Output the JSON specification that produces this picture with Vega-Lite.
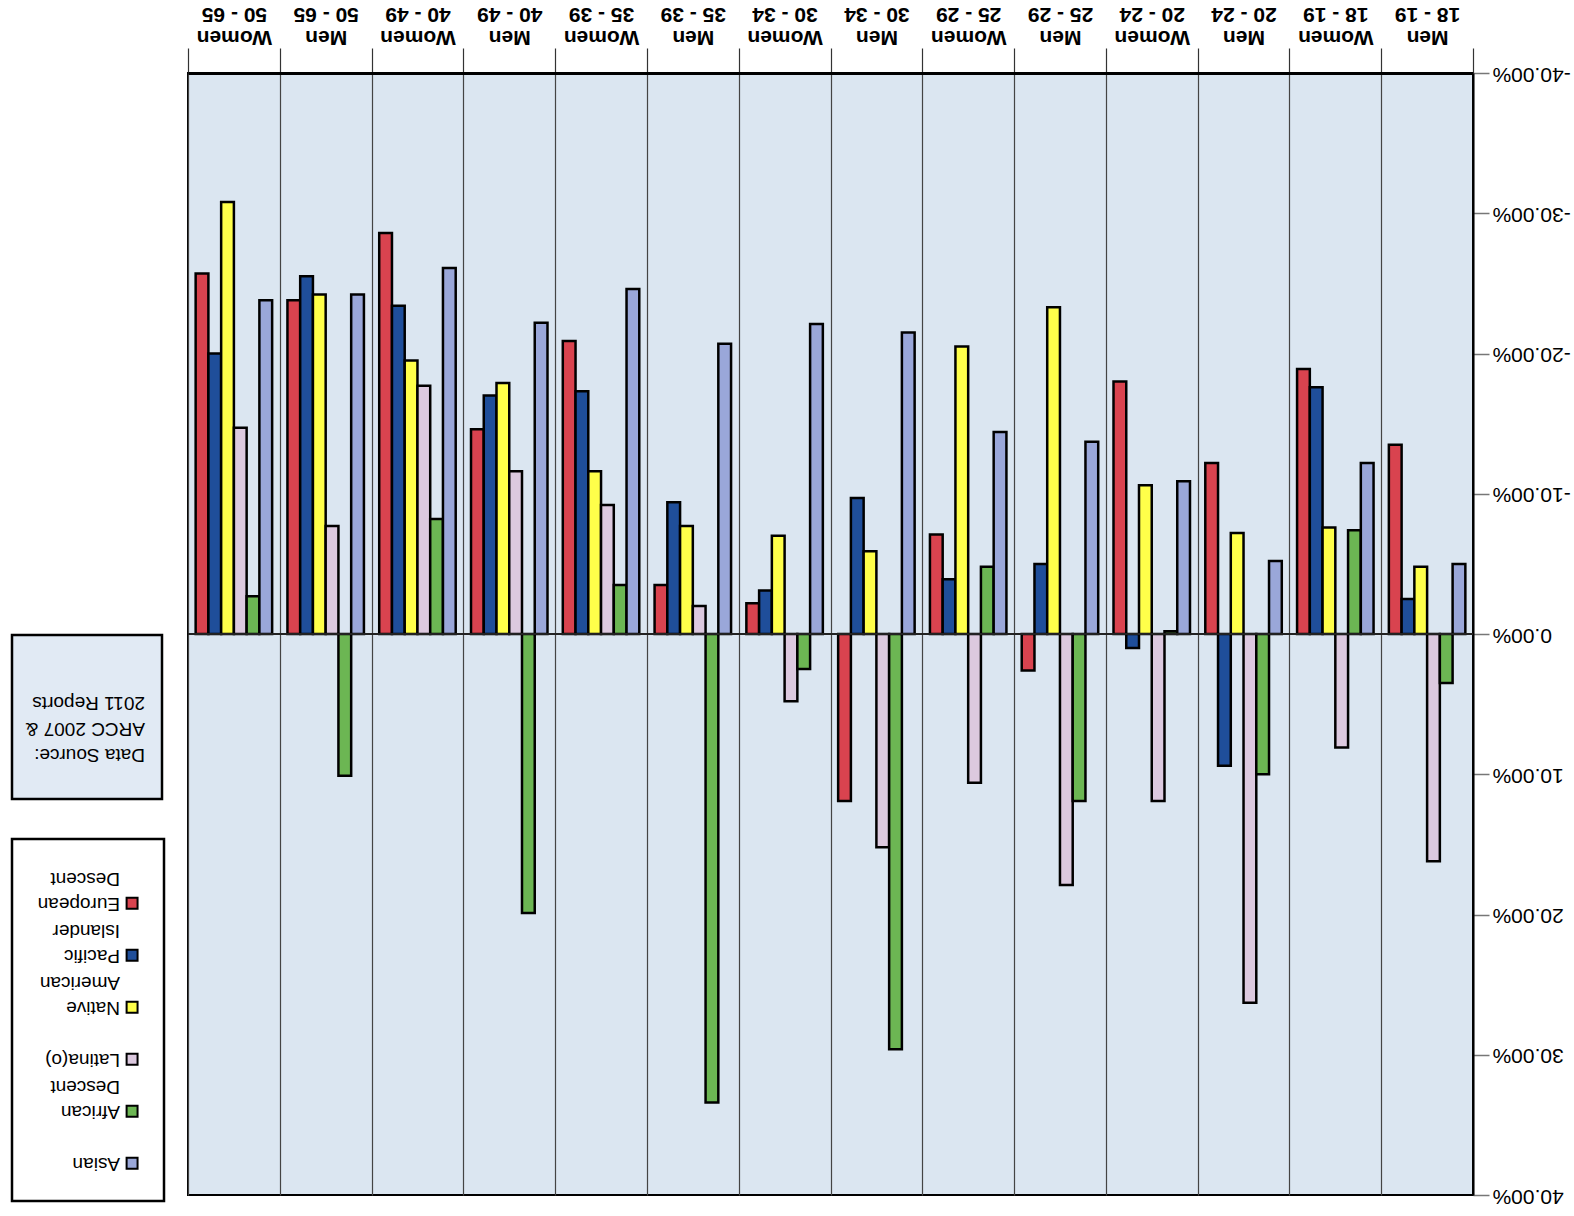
{
  "$schema": "https://vega.github.io/schema/vega-lite/v6.json",
  "background": "white",
  "padding": {"left": 10, "top": 2, "right": 2, "bottom": 5},
  "config": {"font": "Liberation Sans"},
  "hconcat": [
    {
      "spacing": 36,
      "vconcat": [
        {
          "width": 152, "height": 524,
          "view": {"stroke": null},
          "data": {"values": [{}]},
          "mark": {"type": "point", "opacity": 0},
          "encoding": {}
        },
        {
          "width": 150, "height": 164,
          "view": {"fill": "#e1eaf4", "stroke": "black", "strokeWidth": 2.5},
          "data": {"values": [{"t": "Data Source:\nARCC 2007 &\n2011 Reports"}]},
          "mark": {"type": "text", "angle": 180, "align": "left", "baseline": "middle", "lineBreak": "\n", "font": "Liberation Sans", "fontSize": 19, "lineHeight": 26, "dx": -58, "dy": -38, "color": "black"},
          "encoding": {"text": {"field": "t"}}
        },
        {
          "width": 152, "height": 362,
          "view": {"fill": "white", "stroke": "black", "strokeWidth": 2.5},
          "data": {"values": [
            {"race": "European Descent", "label": "European\nDescent"},
            {"race": "Pacific Islander", "label": "Pacific\nIslander"},
            {"race": "Native American", "label": "Native\nAmerican"},
            {"race": "Latina(o)", "label": "Latina(o)"},
            {"race": "African Descent", "label": "African\nDescent"},
            {"race": "Asian", "label": "Asian"}
          ]},
          "layer": [
            {
              "mark": {"type": "point", "shape": "square", "filled": true, "size": 120, "stroke": "black", "strokeWidth": 2, "opacity": 1},
              "encoding": {
                "x": {"datum": 0.79, "type": "quantitative", "scale": {"domain": [0, 1]}, "axis": null},
                "y": {"field": "race", "type": "nominal", "sort": ["European Descent", "Pacific Islander", "Native American", "Latina(o)", "African Descent", "Asian"], "scale": {"type": "point", "padding": 0.98, "align": 0.63}, "axis": null},
                "color": {"field": "race", "type": "nominal", "scale": {"domain": ["European Descent", "Pacific Islander", "Native American", "Latina(o)", "African Descent", "Asian"], "range": ["#d9434f", "#1f4e9a", "#ffff4a", "#dcc9df", "#6cb653", "#9aa7d9"]}, "legend": null}
              }
            },
            {
              "mark": {"type": "text", "angle": 180, "align": "left", "baseline": "top", "dy": -10, "dx": 12, "lineBreak": "\n", "font": "Liberation Sans", "fontSize": 19, "lineHeight": 25, "color": "black"},
              "encoding": {
                "x": {"datum": 0.79, "type": "quantitative", "scale": {"domain": [0, 1]}, "axis": null},
                "y": {"field": "race", "type": "nominal", "sort": ["European Descent", "Pacific Islander", "Native American", "Latina(o)", "African Descent", "Asian"], "scale": {"type": "point", "padding": 0.98, "align": 0.63}, "axis": null},
                "text": {"field": "label"}
              }
            }
          ]
        }
      ]
    },
    {
      "width": 1285, "height": 1122,
      "view": {"fill": "#dbe6f1", "stroke": "black", "strokeWidth": 2},
      "data": {"values": [
        {"group": "Women|50 - 65", "race": "European Descent", "value": -25.7},
        {"group": "Women|50 - 65", "race": "Pacific Islander", "value": -20.0},
        {"group": "Women|50 - 65", "race": "Native American", "value": -30.8},
        {"group": "Women|50 - 65", "race": "Latina(o)", "value": -14.7},
        {"group": "Women|50 - 65", "race": "African Descent", "value": -2.7},
        {"group": "Women|50 - 65", "race": "Asian", "value": -23.8},
        {"group": "Men|50 - 65", "race": "European Descent", "value": -23.8},
        {"group": "Men|50 - 65", "race": "Pacific Islander", "value": -25.5},
        {"group": "Men|50 - 65", "race": "Native American", "value": -24.2},
        {"group": "Men|50 - 65", "race": "Latina(o)", "value": -7.7},
        {"group": "Men|50 - 65", "race": "African Descent", "value": 10.1},
        {"group": "Men|50 - 65", "race": "Asian", "value": -24.2},
        {"group": "Women|40 - 49", "race": "European Descent", "value": -28.6},
        {"group": "Women|40 - 49", "race": "Pacific Islander", "value": -23.4},
        {"group": "Women|40 - 49", "race": "Native American", "value": -19.5},
        {"group": "Women|40 - 49", "race": "Latina(o)", "value": -17.7},
        {"group": "Women|40 - 49", "race": "African Descent", "value": -8.2},
        {"group": "Women|40 - 49", "race": "Asian", "value": -26.1},
        {"group": "Men|40 - 49", "race": "European Descent", "value": -14.6},
        {"group": "Men|40 - 49", "race": "Pacific Islander", "value": -17.0},
        {"group": "Men|40 - 49", "race": "Native American", "value": -17.9},
        {"group": "Men|40 - 49", "race": "Latina(o)", "value": -11.6},
        {"group": "Men|40 - 49", "race": "African Descent", "value": 19.9},
        {"group": "Men|40 - 49", "race": "Asian", "value": -22.2},
        {"group": "Women|35 - 39", "race": "European Descent", "value": -20.9},
        {"group": "Women|35 - 39", "race": "Pacific Islander", "value": -17.3},
        {"group": "Women|35 - 39", "race": "Native American", "value": -11.6},
        {"group": "Women|35 - 39", "race": "Latina(o)", "value": -9.2},
        {"group": "Women|35 - 39", "race": "African Descent", "value": -3.5},
        {"group": "Women|35 - 39", "race": "Asian", "value": -24.6},
        {"group": "Men|35 - 39", "race": "European Descent", "value": -3.5},
        {"group": "Men|35 - 39", "race": "Pacific Islander", "value": -9.4},
        {"group": "Men|35 - 39", "race": "Native American", "value": -7.7},
        {"group": "Men|35 - 39", "race": "Latina(o)", "value": -2.0},
        {"group": "Men|35 - 39", "race": "African Descent", "value": 33.4},
        {"group": "Men|35 - 39", "race": "Asian", "value": -20.7},
        {"group": "Women|30 - 34", "race": "European Descent", "value": -2.2},
        {"group": "Women|30 - 34", "race": "Pacific Islander", "value": -3.1},
        {"group": "Women|30 - 34", "race": "Native American", "value": -7.0},
        {"group": "Women|30 - 34", "race": "Latina(o)", "value": 4.8},
        {"group": "Women|30 - 34", "race": "African Descent", "value": 2.5},
        {"group": "Women|30 - 34", "race": "Asian", "value": -22.1},
        {"group": "Men|30 - 34", "race": "European Descent", "value": 11.9},
        {"group": "Men|30 - 34", "race": "Pacific Islander", "value": -9.7},
        {"group": "Men|30 - 34", "race": "Native American", "value": -5.9},
        {"group": "Men|30 - 34", "race": "Latina(o)", "value": 15.2},
        {"group": "Men|30 - 34", "race": "African Descent", "value": 29.6},
        {"group": "Men|30 - 34", "race": "Asian", "value": -21.5},
        {"group": "Women|25 - 29", "race": "European Descent", "value": -7.1},
        {"group": "Women|25 - 29", "race": "Pacific Islander", "value": -3.9},
        {"group": "Women|25 - 29", "race": "Native American", "value": -20.5},
        {"group": "Women|25 - 29", "race": "Latina(o)", "value": 10.6},
        {"group": "Women|25 - 29", "race": "African Descent", "value": -4.8},
        {"group": "Women|25 - 29", "race": "Asian", "value": -14.4},
        {"group": "Men|25 - 29", "race": "European Descent", "value": 2.6},
        {"group": "Men|25 - 29", "race": "Pacific Islander", "value": -5.0},
        {"group": "Men|25 - 29", "race": "Native American", "value": -23.3},
        {"group": "Men|25 - 29", "race": "Latina(o)", "value": 17.9},
        {"group": "Men|25 - 29", "race": "African Descent", "value": 11.9},
        {"group": "Men|25 - 29", "race": "Asian", "value": -13.7},
        {"group": "Women|20 - 24", "race": "European Descent", "value": -18.0},
        {"group": "Women|20 - 24", "race": "Pacific Islander", "value": 1.0},
        {"group": "Women|20 - 24", "race": "Native American", "value": -10.6},
        {"group": "Women|20 - 24", "race": "Latina(o)", "value": 11.9},
        {"group": "Women|20 - 24", "race": "African Descent", "value": -0.2},
        {"group": "Women|20 - 24", "race": "Asian", "value": -10.9},
        {"group": "Men|20 - 24", "race": "European Descent", "value": -12.2},
        {"group": "Men|20 - 24", "race": "Pacific Islander", "value": 9.4},
        {"group": "Men|20 - 24", "race": "Native American", "value": -7.2},
        {"group": "Men|20 - 24", "race": "Latina(o)", "value": 26.3},
        {"group": "Men|20 - 24", "race": "African Descent", "value": 10.0},
        {"group": "Men|20 - 24", "race": "Asian", "value": -5.2},
        {"group": "Women|18 - 19", "race": "European Descent", "value": -18.9},
        {"group": "Women|18 - 19", "race": "Pacific Islander", "value": -17.6},
        {"group": "Women|18 - 19", "race": "Native American", "value": -7.6},
        {"group": "Women|18 - 19", "race": "Latina(o)", "value": 8.1},
        {"group": "Women|18 - 19", "race": "African Descent", "value": -7.4},
        {"group": "Women|18 - 19", "race": "Asian", "value": -12.2},
        {"group": "Men|18 - 19", "race": "European Descent", "value": -13.5},
        {"group": "Men|18 - 19", "race": "Pacific Islander", "value": -2.5},
        {"group": "Men|18 - 19", "race": "Native American", "value": -4.8},
        {"group": "Men|18 - 19", "race": "Latina(o)", "value": 16.2},
        {"group": "Men|18 - 19", "race": "African Descent", "value": 3.5},
        {"group": "Men|18 - 19", "race": "Asian", "value": -5.0}
      ]},
      "layer": [
        {
          "mark": {"type": "bar", "stroke": "black", "strokeWidth": 2.5, "opacity": 1},
          "encoding": {
            "x": {
              "field": "group", "type": "nominal",
              "sort": ["Women|50 - 65", "Men|50 - 65", "Women|40 - 49", "Men|40 - 49", "Women|35 - 39", "Men|35 - 39", "Women|30 - 34", "Men|30 - 34", "Women|25 - 29", "Men|25 - 29", "Women|20 - 24", "Men|20 - 24", "Women|18 - 19", "Men|18 - 19"],
              "scale": {"paddingInner": 0, "paddingOuter": 0},
              "axis": {
                "orient": "top", "title": null,
                "labelExpr": "split(datum.label, '|')",
                "labelAngle": 180, "labelAlign": "center", "labelBaseline": "top",
                "labelFont": "Liberation Sans", "labelFontSize": 21, "labelFontWeight": "bold", "labelColor": "black",
                "labelLineHeight": 23, "labelPadding": 1, "labelOverlap": false,
                "tickBand": "extent", "tickSize": 25, "tickColor": "#333", "tickWidth": 1.2,
                "grid": true, "gridColor": "#444", "gridWidth": 1.2, "gridOpacity": 1,
                "domain": true, "domainColor": "black", "domainWidth": 3
              }
            },
            "xOffset": {
              "field": "race", "type": "nominal",
              "sort": ["European Descent", "Pacific Islander", "Native American", "Latina(o)", "African Descent", "Asian"],
              "scale": {"paddingInner": 0, "paddingOuter": 0.6}
            },
            "y": {
              "field": "value", "type": "quantitative",
              "scale": {"domain": [-40, 40], "reverse": true, "nice": false},
              "axis": {
                "orient": "right", "title": null,
                "values": [-40, -30, -20, -10, 0, 10, 20, 30, 40],
                "labelExpr": "replace(format(datum.value, '.2f'), '\u2212', '-') + '%'",
                "labelAngle": 180, "labelAlign": "right", "labelBaseline": "middle",
                "labelFont": "Liberation Sans", "labelFontSize": 21, "labelColor": "black", "labelPadding": 3,
                "tickSize": 16, "tickColor": "#777", "tickWidth": 1.5,
                "domainColor": "black", "domainWidth": 2, "grid": false
              }
            },
            "color": {
              "field": "race", "type": "nominal",
              "scale": {"domain": ["European Descent", "Pacific Islander", "Native American", "Latina(o)", "African Descent", "Asian"], "range": ["#d9434f", "#1f4e9a", "#ffff4a", "#dcc9df", "#6cb653", "#9aa7d9"]},
              "legend": null
            }
          }
        },
        {
          "mark": {"type": "rule", "color": "#222", "strokeWidth": 2},
          "encoding": {"y": {"datum": 0}}
        }
      ]
    }
  ],
  "spacing": 20
}
